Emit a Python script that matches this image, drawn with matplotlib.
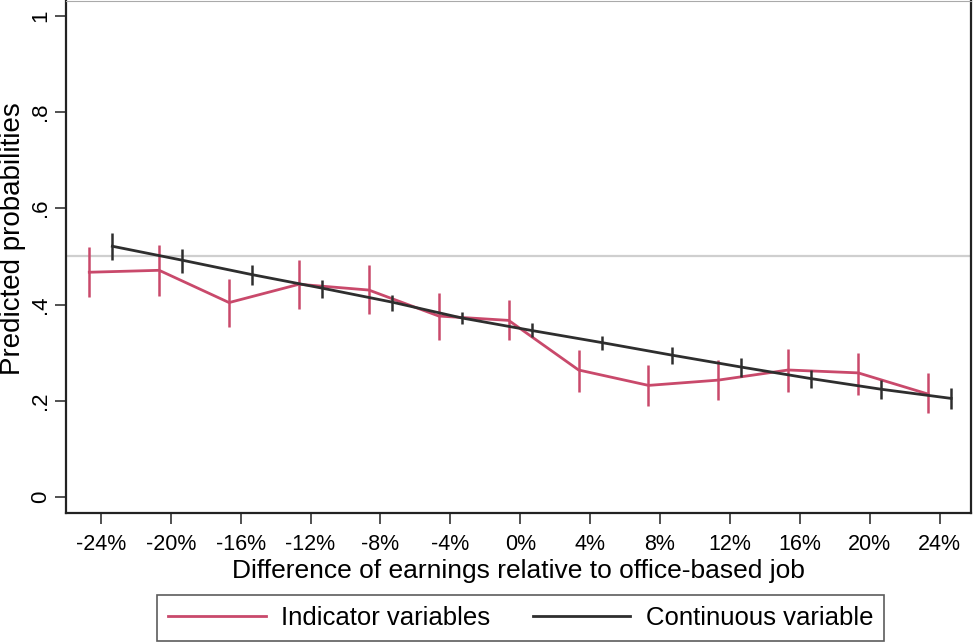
import matplotlib.pyplot as plt
import numpy as np

plt.rcParams['font.family'] = ['Liberation Sans', 'DejaVu Sans']

# earnings difference (%) categories
diffs = [-24, -20, -16, -12, -8, -4, 0, 4, 8, 12, 16, 20, 24]
tick_labels = ['-24%', '-20%', '-16%', '-12%', '-8%', '-4%', '0%',
               '4%', '8%', '12%', '16%', '20%', '24%']

# indicator variables model
ind_p = [0.467, 0.471, 0.404, 0.442, 0.430, 0.376, 0.367, 0.264, 0.232, 0.243, 0.264, 0.258, 0.214]
ind_lo = [0.416, 0.417, 0.353, 0.391, 0.380, 0.326, 0.327, 0.219, 0.189, 0.201, 0.219, 0.213, 0.174]
ind_hi = [0.519, 0.524, 0.452, 0.493, 0.481, 0.424, 0.409, 0.305, 0.275, 0.284, 0.307, 0.300, 0.257]

# continuous variable model
con_p = [0.521, 0.492, 0.462, 0.434, 0.405, 0.372, 0.346, 0.321, 0.295, 0.270, 0.246, 0.224, 0.205]
con_lo = [0.493, 0.466, 0.440, 0.414, 0.387, 0.360, 0.333, 0.305, 0.277, 0.250, 0.227, 0.203, 0.182]
con_hi = [0.549, 0.516, 0.483, 0.450, 0.419, 0.384, 0.362, 0.334, 0.312, 0.288, 0.265, 0.244, 0.226]

red = '#c9496b'
blk = '#2e2e2e'
shift = 0.66

fig = plt.figure(figsize=(9.74, 6.44), dpi=100)
ax = fig.add_axes([0.0678, 0.2034, 0.9292, 0.7956])

x = np.array(diffs, dtype=float)
ax.axhline(0.5, color='#cfcfcf', lw=1.6, zorder=1)

ax.vlines(x - shift, ind_lo, ind_hi, color=red, lw=1.8, zorder=2)
l1, = ax.plot(x - shift, ind_p, color=red, lw=2, zorder=2, label='Indicator variables')
ax.vlines(x + shift, con_lo, con_hi, color=blk, lw=1.8, zorder=3)
l2, = ax.plot(x + shift, con_p, color=blk, lw=2, zorder=3, label='Continuous variable')

ax.set_xlim(-25.99, 25.8)
ax.set_ylim(-0.033, 1.031)
ax.set_xticks(diffs)
ax.set_xticklabels(tick_labels, fontsize=15.5)
ax.set_yticks([0, 0.2, 0.4, 0.6, 0.8, 1.0])
ax.set_yticklabels(['0', '.2', '.4', '.6', '.8', '1'], fontsize=16, rotation=90, va='center')
ax.tick_params(axis='both', length=8, width=1.2, color='#333333')
ax.tick_params(axis='x', pad=7)
ax.tick_params(axis='y', pad=3)
for s in ['left', 'bottom']:
    ax.spines[s].set_linewidth(1.6)
    ax.spines[s].set_color('#222222')
ax.spines['top'].set_color('#aaaaaa')
ax.spines['right'].set_color('#222222')
ax.spines['right'].set_linewidth(1.6)

ax.set_xlabel('Difference of earnings relative to office-based job', fontsize=19)
ax.xaxis.set_label_coords(0.5, -0.114)
ax.xaxis.label.set_va('center')
ax.set_ylabel('Predicted probabilities', fontsize=20)
ax.yaxis.set_label_coords(-0.0585, 0.535)
ax.yaxis.label.set_va('center')

leg = fig.legend(handles=[l1, l2], loc='center', bbox_to_anchor=(0.5344, 0.0404), ncol=2,
                 fontsize=18.5, frameon=True, fancybox=False, edgecolor='#333333',
                 handlelength=3.8, handletextpad=0.6, columnspacing=1.65,
                 borderpad=0.42, borderaxespad=0)
leg.get_frame().set_linewidth(1.2)

fig.savefig('out.png', dpi=100)
